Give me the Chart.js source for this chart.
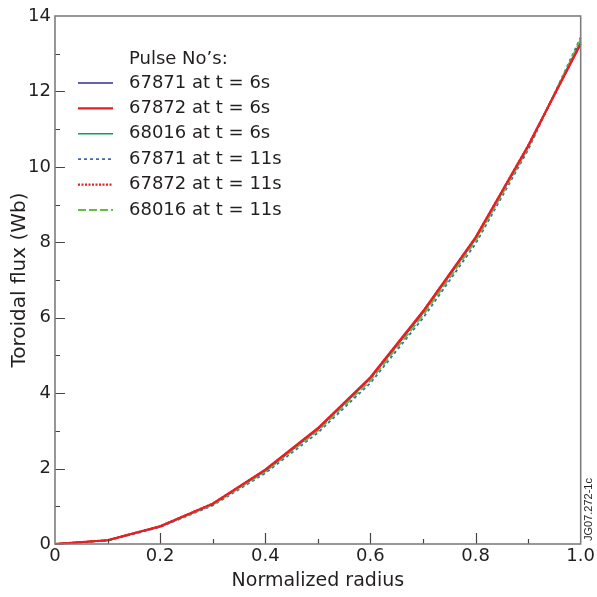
<!DOCTYPE html>
<html>
<head>
<meta charset="utf-8">
<script src="https://cdn.jsdelivr.net/npm/chart.js@4/dist/chart.umd.min.js"></script>
<style>
  html, body { margin: 0; padding: 0; background: #fff; }
  #wrap { width: 597px; height: 597px; position: relative; }
</style>
</head>
<body>
<div id="wrap"><canvas id="c"></canvas></div>
<script>
// Normalized radius sample points
const radius = [0, 0.1, 0.2, 0.3, 0.4, 0.5, 0.6, 0.7, 0.8, 0.9, 1.0];

// Toroidal flux (Wb) profiles per pulse and time
const flux67871_6s  = [0, 0.10, 0.46, 1.05, 1.94, 3.04, 4.39, 6.13, 8.09, 10.53, 13.32];
const flux67872_6s  = [0, 0.10, 0.47, 1.07, 1.97, 3.07, 4.42, 6.17, 8.13, 10.56, 13.26];
const flux68016_6s  = [0, 0.10, 0.47, 1.06, 1.95, 3.05, 4.40, 6.14, 8.10, 10.54, 13.30];
const flux67871_11s = [0, 0.09, 0.45, 1.02, 1.88, 2.95, 4.27, 5.99, 7.96, 10.45, 13.43];
const flux67872_11s = [0, 0.10, 0.47, 1.07, 1.96, 3.06, 4.41, 6.16, 8.12, 10.56, 13.27];
const flux68016_11s = [0, 0.10, 0.46, 1.04, 1.92, 3.00, 4.33, 6.06, 8.03, 10.50, 13.38];

const seriesLabels = [
  '67871 at t = 6s', '67872 at t = 6s', '68016 at t = 6s',
  '67871 at t = 11s', '67872 at t = 11s', '68016 at t = 11s'
];
const legendTitle = 'Pulse No\u2019s:';
const xTickLabels = ['0', '0.2', '0.4', '0.6', '0.8', '1.0'];
const yTickLabels = ['0', '2', '4', '6', '8', '10', '12', '14'];
const xTitle = 'Normalized radius';
const yTitle = 'Toroidal flux (Wb)';
const figureId = 'JG07.272-1c';

const FONT = '"DejaVu Sans", sans-serif';
const SMALL_FONT = '"Liberation Sans", Arial, sans-serif';
const TEXT = '#231f20';
const AXIS = '#7d7d7d';

function pts(ys) { return radius.map((x, i) => ({ x: x, y: ys[i] })); }

const styles = [
  { color: '#2e3192', width: 1.6, dash: [],       order: 4 },
  { color: '#ed1c24', width: 2.2, dash: [],       order: 0 },
  { color: '#00a651', width: 1.6, dash: [],       order: 3 },
  { color: '#4466b0', width: 1.8, dash: [3, 3],   order: 5 },
  { color: '#ee1c25', width: 2.2, dash: [2, 1.5], order: 1 },
  { color: '#66bb44', width: 1.8, dash: [8, 3],   order: 2 }
];
const allSeries = [flux67871_6s, flux67872_6s, flux68016_6s, flux67871_11s, flux67872_11s, flux68016_11s];

const datasets = allSeries.map((ys, i) => ({
  label: seriesLabels[i],
  data: pts(ys),
  borderColor: styles[i].color,
  borderWidth: styles[i].width,
  borderDash: styles[i].dash,
  order: styles[i].order,
  pointRadius: 0,
  tension: 0,
  fill: false,
  clip: false
}));

// Frame, inward tick marks, legend block and figure id
const decorations = {
  id: 'decorations',
  afterDraw(chart) {
    const ctx = chart.ctx;
    const a = chart.chartArea;
    const xs = chart.scales.x, ys = chart.scales.y;
    ctx.save();
    // inward ticks
    ctx.strokeStyle = '#444';
    ctx.lineWidth = 1.2;
    ctx.beginPath();
    for (let k = 1; k < 10; k++) {
      const px = Math.round(xs.getPixelForValue(k / 10)) + 0.5;
      const len = (k % 2 === 0) ? 11 : 5;
      ctx.moveTo(px, a.bottom);
      ctx.lineTo(px, a.bottom - len);
    }
    for (let k = 1; k < 14; k++) {
      const py = Math.round(ys.getPixelForValue(k)) + 0.5;
      const len = (k % 2 === 0) ? 10 : 5;
      ctx.moveTo(a.left, py);
      ctx.lineTo(a.left + len, py);
    }
    ctx.stroke();
    // frame
    ctx.strokeStyle = AXIS;
    ctx.lineWidth = 1.6;
    ctx.strokeRect(a.left, a.top, a.right - a.left, a.bottom - a.top);

    // legend
    ctx.fillStyle = TEXT;
    ctx.font = '18px ' + FONT;
    ctx.textAlign = 'left';
    ctx.textBaseline = 'middle';
    ctx.fillText(legendTitle, 129, 59);
    chart.data.datasets.forEach((ds, i) => {
      const y = 83 + i * 25.4;
      ctx.beginPath();
      ctx.strokeStyle = ds.borderColor;
      ctx.lineWidth = ds.borderWidth;
      ctx.setLineDash(ds.borderDash);
      ctx.moveTo(78, y);
      ctx.lineTo(113, y);
      ctx.stroke();
      ctx.setLineDash([]);
      ctx.fillText(ds.label, 129, y);
    });

    // figure id along the right edge
    ctx.translate(589, 541);
    ctx.rotate(-Math.PI / 2);
    ctx.font = '11px ' + SMALL_FONT;
    ctx.textAlign = 'left';
    ctx.textBaseline = 'middle';
    ctx.fillStyle = TEXT;
    ctx.fillText(figureId, 0, 0);
    ctx.restore();
  }
};

new Chart(document.getElementById('c'), {
  type: 'line',
  data: { datasets: datasets },
  options: {
    responsive: true,
    maintainAspectRatio: false,
    animation: false,
    layout: { padding: { top: 16, right: 16, left: 0, bottom: 0 } },
    plugins: { legend: { display: false }, tooltip: { enabled: false } },
    scales: {
      x: {
        type: 'linear',
        min: 0, max: 1,
        afterFit(s) { s.height = 53; },
        afterBuildTicks(s) { s.ticks = xTickLabels.map(t => ({ value: parseFloat(t) })); },
        ticks: {
          callback: (v, i) => xTickLabels[i],
          color: TEXT, font: { family: FONT, size: 18 }, padding: 2, maxRotation: 0
        },
        grid: { display: false, drawTicks: false },
        border: { display: false },
        title: {
          display: true, text: xTitle, color: TEXT,
          font: { family: FONT, size: 19 }, padding: { top: 0, bottom: 5 }
        }
      },
      y: {
        type: 'linear',
        min: 0, max: 14,
        afterFit(s) { s.width = 55; },
        afterBuildTicks(s) { s.ticks = yTickLabels.map(t => ({ value: parseFloat(t) })); },
        ticks: {
          callback: (v, i) => yTickLabels[i],
          color: TEXT, font: { family: FONT, size: 18 }, padding: 4
        },
        grid: { display: false, drawTicks: false },
        border: { display: false },
        title: {
          display: true, text: yTitle, color: TEXT,
          font: { family: FONT, size: 20 }, padding: { top: 8, bottom: 0 }
        }
      }
    }
  },
  plugins: [decorations]
});
</script>
</body>
</html>
